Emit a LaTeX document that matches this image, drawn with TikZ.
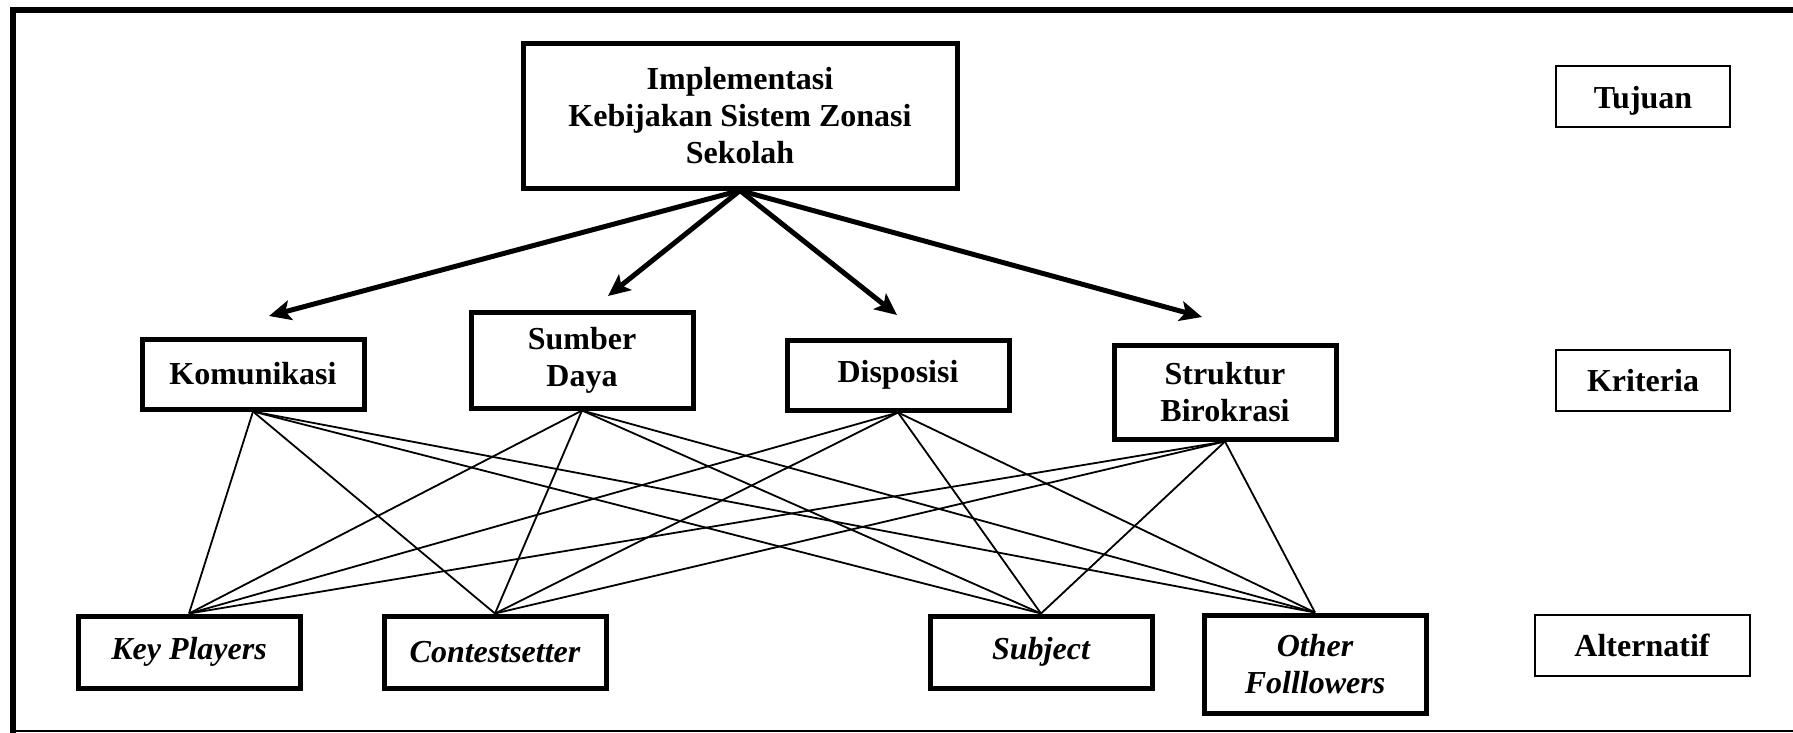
\documentclass[tikz,border=0pt]{standalone}
\usepackage{fontspec}
\setmainfont{Liberation Serif}
\usepackage{tikz}
\usetikzlibrary{arrows.meta,positioning}

\begin{document}
\begin{tikzpicture}[x=0.5pt,y=-0.5pt,>={Stealth[length=11pt,width=10pt,inset=2.5pt]},auto,
        every node/.style={font=\fontsize{16}{18.5}\selectfont\bfseries}]
        \tikzstyle{box}=[draw=black,line width=2.5pt,align=center,inner sep=2pt,minimum width=111pt]
        \tikzstyle{alt}=[box,minimum height=36pt,font=\fontsize{16}{18.5}\selectfont\bfseries\itshape]
        \tikzstyle{lvl}=[draw=black,line width=1pt,minimum width=87pt,minimum height=30.5pt,text depth=0pt]
        \tikzstyle{panah}=[->,line width=2.5pt]
        \tikzstyle{garis}=[line width=0.9pt]
        \useasboundingbox (0,0) rectangle (1793,733);
        % bingkai
        \draw[line width=3pt] (13,733) -- (13,10) -- (1793,10);
        \draw[line width=1pt] (13,731) -- (1793,731);
        % tujuan
        \node[box,minimum width=217pt,minimum height=72pt](top) at (740,116)
            {Implementasi\\Kebijakan Sistem Zonasi\\Sekolah};
        % kriteria
        \node[box,minimum height=35pt](kom) at (253,374) {Komunikasi};
        \node[box,minimum height=48pt](sd) at (582,360) {Sumber\\Daya};
        \node[box,minimum height=35pt](disp) at (898,375) {Disposisi};
        \node[box,minimum height=47pt](sb) at (1225,392) {Struktur\\Birokrasi};
        % alternatif
        \node[alt](kp) at (189,652) {Key Players};
        \node[alt](cs) at (495,652) {Contestsetter};
        \node[alt](subj) at (1041,652) {Subject};
        \node[alt,minimum height=49pt](of) at (1315,664) {Other\\Folllowers};
        % keterangan
        \node[lvl](tujuan) at (1643,97) {Tujuan};
        \node[lvl](kriteria) at (1643,380) {Kriteria};
        \node[lvl,minimum width=107.5pt](alternatif) at (1642,645) {Alternatif};
        % panah
        \coordinate (a1) at (269,316);
        \coordinate (a2) at (608,296);
        \coordinate (a3) at (897,315);
        \coordinate (a4) at (1202,317);
        \foreach \t in {a1,a2,a3,a4}
            \draw[panah] (top.south) -- (\t);
        % garis
        \foreach \c in {kom,sd,disp,sb}
            \foreach \a in {kp,cs,subj,of}
                \draw[garis] (\c.south) -- (\a.north);
\end{tikzpicture}
\end{document}
